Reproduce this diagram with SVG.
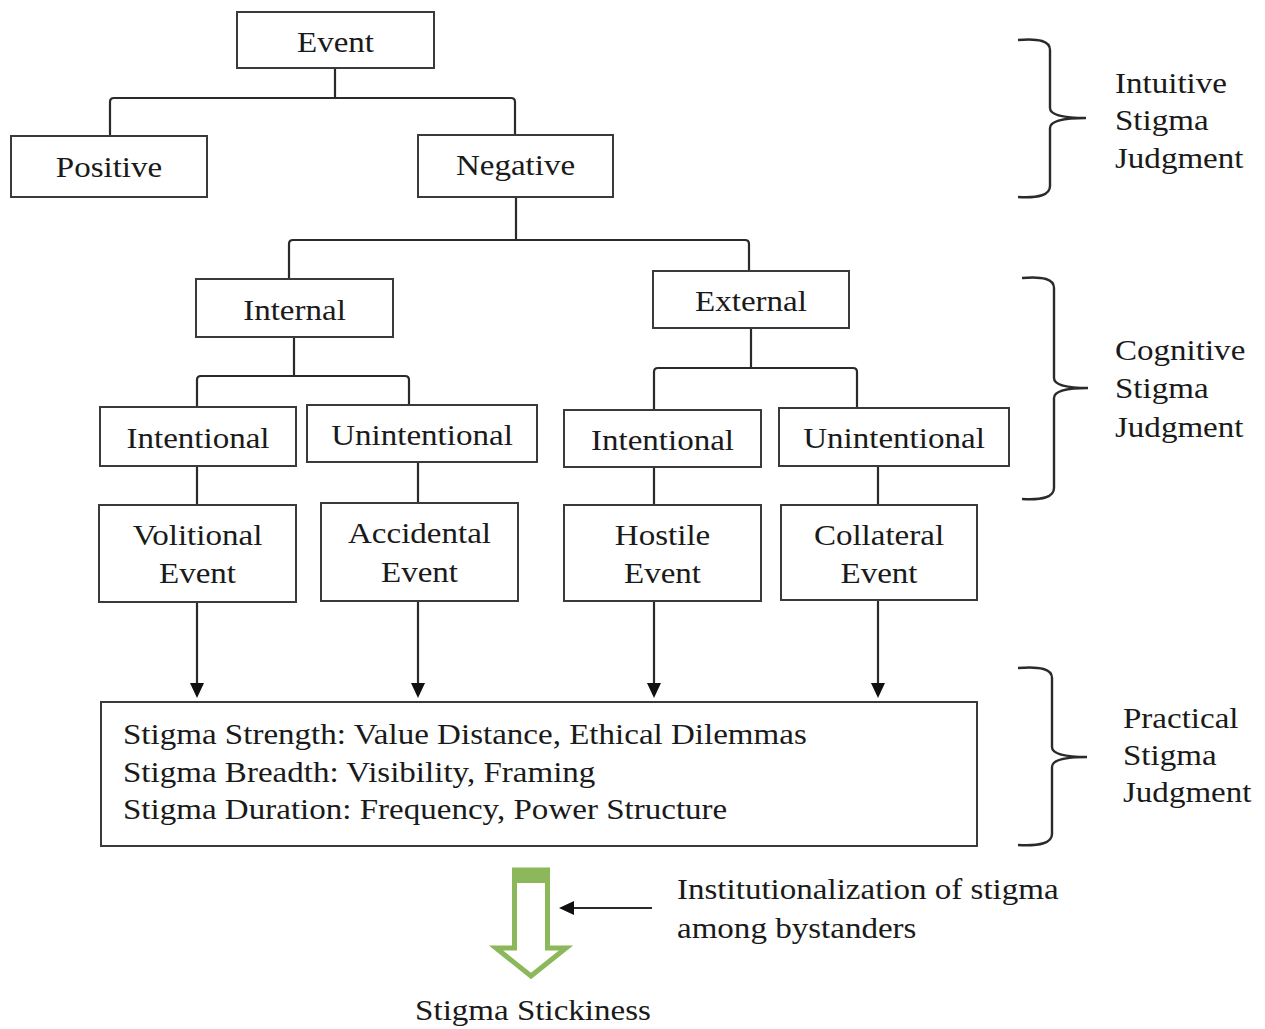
<svg xmlns="http://www.w3.org/2000/svg" width="1265" height="1029" viewBox="0 0 1265 1029">
<style>
.box{fill:#fff;stroke:#3a3a3a;stroke-width:2}
.t{font-family:"Liberation Serif","Times New Roman",serif;font-size:29.5px;fill:#1a1a1a}
.c{text-anchor:middle}
.ln{fill:none;stroke:#2a2a2a;stroke-width:2.2}
.br{fill:none;stroke:#2a2a2a;stroke-width:2.4}
</style>
<defs>
<marker id="ah" markerUnits="userSpaceOnUse" markerWidth="16" markerHeight="16" refX="7" refY="7" orient="auto">
<path d="M0,0 L15,7 L0,14 Z" fill="#111"/>
</marker>
</defs>
<rect width="1265" height="1029" fill="#fff"/>

<g id="connectors">
<path class="ln" d="M335,68 L335,98 M110,136 L110,102 Q110,98 114,98 L511,98 Q515,98 515,102 L515,135"/>
<path class="ln" d="M516,197 L516,240 M289,279 L289,244 Q289,240 293,240 L745,240 Q749,240 749,244 L749,271"/>
<path class="ln" d="M294,337 L294,376 M197,407 L197,380 Q197,376 201,376 L405,376 Q409,376 409,380 L409,405"/>
<path class="ln" d="M751,328 L751,368 M654,410 L654,372 Q654,368 658,368 L853,368 Q857,368 857,372 L857,409"/>
<path class="ln" d="M197,466 L197,505 M418,462 L418,503 M654,467 L654,505 M878,466 L878,505"/>
<path class="ln" d="M197,602 L197,690" marker-end="url(#ah)"/>
<path class="ln" d="M418,601 L418,690" marker-end="url(#ah)"/>
<path class="ln" d="M654,601 L654,690" marker-end="url(#ah)"/>
<path class="ln" d="M878,600 L878,690" marker-end="url(#ah)"/>
<path class="ln" d="M652,908 L567,908" marker-end="url(#ah)"/>
</g>

<g id="event"><rect class="box" x="237" y="12" width="197" height="56"/>
<text class="t c" transform="translate(335.5,52) scale(1.12,1)">Event</text></g>
<g id="positive"><rect class="box" x="11" y="136" width="196" height="61"/>
<text class="t c" transform="translate(109,177) scale(1.12,1)">Positive</text></g>
<g id="negative"><rect class="box" x="418" y="135" width="195" height="62"/>
<text class="t c" transform="translate(515.5,175) scale(1.12,1)">Negative</text></g>
<g id="internal"><rect class="box" x="196" y="279" width="197" height="58"/>
<text class="t c" transform="translate(294.5,320) scale(1.12,1)">Internal</text></g>
<g id="external"><rect class="box" x="653" y="271" width="196" height="57"/>
<text class="t c" transform="translate(751,311) scale(1.12,1)">External</text></g>
<g id="intentional-int"><rect class="box" x="100" y="407" width="196" height="59"/>
<text class="t c" transform="translate(198,448) scale(1.12,1)">Intentional</text></g>
<g id="unintentional-int"><rect class="box" x="307" y="405" width="230" height="57"/>
<text class="t c" transform="translate(422,445) scale(1.12,1)">Unintentional</text></g>
<g id="intentional-ext"><rect class="box" x="564" y="410" width="197" height="57"/>
<text class="t c" transform="translate(662.5,450) scale(1.12,1)">Intentional</text></g>
<g id="unintentional-ext"><rect class="box" x="779" y="408" width="230" height="58"/>
<text class="t c" transform="translate(894,448) scale(1.12,1)">Unintentional</text></g>
<g id="volitional"><rect class="box" x="99" y="505" width="197" height="97"/>
<text class="t c" transform="translate(197.5,545) scale(1.12,1)">Volitional</text>
<text class="t c" transform="translate(197.5,583) scale(1.12,1)">Event</text></g>
<g id="accidental"><rect class="box" x="321" y="503" width="197" height="98"/>
<text class="t c" transform="translate(419.5,543) scale(1.12,1)">Accidental</text>
<text class="t c" transform="translate(419.5,582) scale(1.12,1)">Event</text></g>
<g id="hostile"><rect class="box" x="564" y="505" width="197" height="96"/>
<text class="t c" transform="translate(662.5,545) scale(1.12,1)">Hostile</text>
<text class="t c" transform="translate(662.5,583) scale(1.12,1)">Event</text></g>
<g id="collateral"><rect class="box" x="781" y="505" width="196" height="95"/>
<text class="t c" transform="translate(879,545) scale(1.12,1)">Collateral</text>
<text class="t c" transform="translate(879,583) scale(1.12,1)">Event</text></g>

<g id="dimensions"><rect class="box" x="101" y="702" width="876" height="144"/>
<text class="t" transform="translate(123,744) scale(1.12,1)">Stigma Strength: Value Distance, Ethical Dilemmas</text>
<text class="t" transform="translate(123,782) scale(1.12,1)">Stigma Breadth: Visibility, Framing</text>
<text class="t" transform="translate(123,819) scale(1.12,1)">Stigma Duration: Frequency, Power Structure</text></g>

<g id="intuitive">
<path class="br" d="M1018,40 Q1050,37 1050,50 L1050,108 Q1050,118 1086,118 Q1050,118 1050,128 L1050,186 Q1050,199 1018,197"/>
<text class="t" transform="translate(1115,93) scale(1.12,1)">Intuitive</text>
<text class="t" transform="translate(1115,130) scale(1.12,1)">Stigma</text>
<text class="t" transform="translate(1115,168) scale(1.12,1)">Judgment</text></g>
<g id="cognitive">
<path class="br" d="M1022,278 Q1054,275 1054,288 L1054,378 Q1054,388 1088,388 Q1054,388 1054,398 L1054,488 Q1054,501 1022,499"/>
<text class="t" transform="translate(1115,360) scale(1.12,1)">Cognitive</text>
<text class="t" transform="translate(1115,398) scale(1.12,1)">Stigma</text>
<text class="t" transform="translate(1115,437) scale(1.12,1)">Judgment</text></g>
<g id="practical">
<path class="br" d="M1018,668 Q1052,665 1052,678 L1052,747 Q1052,757 1087,757 Q1052,757 1052,767 L1052,834 Q1052,847 1018,845"/>
<text class="t" transform="translate(1123,728) scale(1.12,1)">Practical</text>
<text class="t" transform="translate(1123,765) scale(1.12,1)">Stigma</text>
<text class="t" transform="translate(1123,802) scale(1.12,1)">Judgment</text></g>

<g id="stickiness">
<path d="M514.5,870 L547.5,870 L547.5,948 L566,948 L531,976 L496,948 L514.5,948 Z" fill="#fff" stroke="#8cb75a" stroke-width="5" stroke-linejoin="miter"/>
<rect x="512" y="868" width="38" height="15" fill="#8cb75a"/>
<text class="t c" transform="translate(533,1020) scale(1.12,1)">Stigma Stickiness</text></g>
<g id="institutionalization">
<text class="t" transform="translate(677,899) scale(1.12,1)">Institutionalization of stigma</text>
<text class="t" transform="translate(677,938) scale(1.12,1)">among bystanders</text></g>
</svg>
